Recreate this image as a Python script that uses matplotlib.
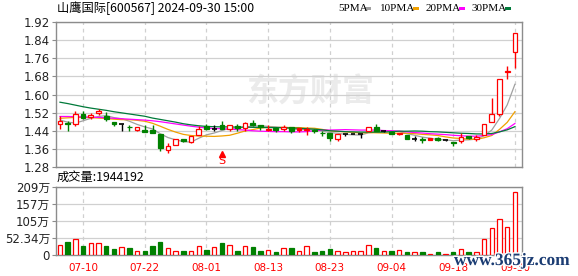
import matplotlib
matplotlib.use('Agg')
import matplotlib.pyplot as plt
from matplotlib.patches import Rectangle
import matplotlib.patheffects as pe

# ---- data (600567, daily, 2024-07-05 .. 2024-09-30) ----
opens = [1.469, 1.474, 1.469, 1.513, 1.500, 1.518, 1.503, 1.478, 1.470, 1.458,
         1.444, 1.443, 1.442, 1.425, 1.354, 1.376, 1.403, 1.390, 1.420, 1.462,
         1.447, 1.465, 1.447, 1.462, 1.451, 1.475, 1.467, 1.444, 1.453, 1.448,
         1.456, 1.450, 1.445, 1.443, 1.432, 1.428, 1.402, 1.425, 1.425, 1.425,
         1.437, 1.455, 1.438, 1.436, 1.425, 1.420, 1.405, 1.403, 1.406, 1.406,
         1.398, 1.391, 1.395, 1.416, 1.403, 1.420, 1.477, 1.512, 1.700, 1.789]
closes = [1.485, 1.470, 1.513, 1.496, 1.509, 1.525, 1.492, 1.470, 1.470, 1.455,
          1.455, 1.434, 1.428, 1.363, 1.372, 1.403, 1.394, 1.416, 1.448, 1.447,
          1.447, 1.447, 1.465, 1.451, 1.473, 1.465, 1.458, 1.448, 1.443, 1.455,
          1.438, 1.443, 1.447, 1.437, 1.429, 1.406, 1.425, 1.425, 1.425, 1.425,
          1.455, 1.438, 1.438, 1.427, 1.429, 1.405, 1.405, 1.398, 1.400, 1.398,
          1.398, 1.384, 1.413, 1.406, 1.413, 1.472, 1.512, 1.667, 1.705, 1.870]
highs = [1.503, 1.482, 1.527, 1.527, 1.518, 1.535, 1.522, 1.479, 1.471, 1.465,
         1.456, 1.465, 1.464, 1.425, 1.385, 1.403, 1.405, 1.416, 1.460, 1.468,
         1.465, 1.482, 1.465, 1.470, 1.478, 1.487, 1.467, 1.465, 1.457, 1.465,
         1.456, 1.453, 1.455, 1.447, 1.440, 1.428, 1.425, 1.426, 1.425, 1.425,
         1.457, 1.468, 1.440, 1.438, 1.431, 1.420, 1.416, 1.413, 1.407, 1.412,
         1.400, 1.391, 1.428, 1.418, 1.420, 1.472, 1.583, 1.667, 1.725, 1.870]
lows = [1.448, 1.438, 1.460, 1.491, 1.491, 1.509, 1.482, 1.460, 1.438, 1.438,
        1.438, 1.434, 1.428, 1.350, 1.341, 1.376, 1.392, 1.385, 1.420, 1.445,
        1.437, 1.447, 1.437, 1.440, 1.440, 1.460, 1.445, 1.437, 1.435, 1.437,
        1.431, 1.436, 1.420, 1.432, 1.416, 1.395, 1.395, 1.418, 1.425, 1.406,
        1.437, 1.438, 1.436, 1.425, 1.423, 1.404, 1.395, 1.387, 1.398, 1.395,
        1.394, 1.372, 1.387, 1.404, 1.395, 1.420, 1.477, 1.505, 1.667, 1.718]

ma5 = [1.487, 1.478, 1.474, 1.484, 1.495, 1.503, 1.507, 1.498, 1.493, 1.482,
       1.468, 1.457, 1.448, 1.427, 1.410, 1.400, 1.392, 1.390, 1.407, 1.422,
       1.430, 1.441, 1.451, 1.451, 1.457, 1.460, 1.462, 1.459, 1.457, 1.454,
       1.448, 1.445, 1.445, 1.444, 1.439, 1.432, 1.429, 1.424, 1.422, 1.421,
       1.431, 1.434, 1.436, 1.437, 1.437, 1.427, 1.420, 1.412, 1.407, 1.401,
       1.400, 1.396, 1.399, 1.400, 1.403, 1.418, 1.443, 1.494, 1.554, 1.645]
ma10 = [1.495, 1.497, 1.499, 1.499, 1.498, 1.496, 1.494, 1.491, 1.489, 1.489,
        1.486, 1.482, 1.473, 1.460, 1.446, 1.434, 1.424, 1.419, 1.417, 1.416,
        1.415, 1.417, 1.420, 1.429, 1.439, 1.445, 1.452, 1.455, 1.454, 1.455,
        1.454, 1.454, 1.452, 1.451, 1.446, 1.440, 1.437, 1.435, 1.433, 1.430,
        1.432, 1.431, 1.430, 1.429, 1.429, 1.429, 1.427, 1.424, 1.422, 1.419,
        1.413, 1.408, 1.406, 1.403, 1.402, 1.409, 1.419, 1.446, 1.477, 1.524]
ma20 = [1.503, 1.503, 1.502, 1.501, 1.500, 1.499, 1.497, 1.495, 1.493, 1.491,
        1.489, 1.487, 1.484, 1.480, 1.475, 1.470, 1.465, 1.460, 1.456, 1.452,
        1.450, 1.449, 1.447, 1.445, 1.443, 1.440, 1.438, 1.437, 1.436, 1.436,
        1.435, 1.435, 1.436, 1.440, 1.443, 1.443, 1.444, 1.445, 1.444, 1.443,
        1.443, 1.443, 1.441, 1.440, 1.438, 1.435, 1.432, 1.430, 1.427, 1.425,
        1.423, 1.420, 1.418, 1.416, 1.416, 1.419, 1.423, 1.435, 1.449, 1.472]
ma30 = [1.566, 1.560, 1.553, 1.546, 1.540, 1.535, 1.530, 1.524, 1.519, 1.514,
        1.509, 1.504, 1.496, 1.490, 1.484, 1.478, 1.471, 1.466, 1.462, 1.459,
        1.458, 1.457, 1.457, 1.456, 1.456, 1.455, 1.455, 1.454, 1.454, 1.453,
        1.452, 1.451, 1.449, 1.447, 1.444, 1.440, 1.438, 1.436, 1.435, 1.434,
        1.434, 1.434, 1.434, 1.436, 1.438, 1.438, 1.439, 1.438, 1.436, 1.435,
        1.433, 1.431, 1.429, 1.428, 1.426, 1.426, 1.428, 1.435, 1.444, 1.458]

# volume in 万
volumes = [31, 41, 49, 29, 37, 36, 29, 18.5, 25, 21.5,
           12.3, 12.3, 28, 40, 20.5, 12.3, 12.3, 12.3, 28, 15.4,
           24.6, 37, 30.8, 12.3, 27.7, 24.6, 12.3, 15.4, 9.2, 20.5,
           21.6, 12.3, 27.7, 9.2, 12.3, 18.5, 12.3, 9.2, 12.3, 12.3,
           30.8, 21.6, 12.3, 12.3, 15.4, 9.2, 9.2, 9.2, 3, 9.2,
           3, 9.2, 17.5, 9.2, 9.2, 48, 82, 110, 85, 194.4192]

tick_idx = [3, 11, 19, 27, 35, 43, 51, 59]
tick_labels = ['07-10', '07-22', '08-01', '08-13', '08-23', '09-04', '09-18', '09-30']
price_ticks = [1.28, 1.36, 1.44, 1.52, 1.60, 1.68, 1.76, 1.84, 1.92]
vol_ticks = [0, 52.34, 104.68, 157.02, 209.36]
vol_tick_labels = ['0', '52.34万', '105万', '157万', '209万']
title = '山鹰国际[600567] 2024-09-30 15:00'
vol_title = '成交量:1944192'
signal_idx = 21

RED = '#FF0000'
GREEN = '#008000'
GRID = '#D0D0D0'
SPINE = '#8C8C8C'
MA_COLORS = ['#A0A0A0', '#F0A000', '#FF00FF', '#007A3A']
CJK = ['Noto Sans CJK SC', 'DejaVu Sans']
NUM = ['DejaVu Sans', 'Noto Sans CJK SC']

W, H = 578, 276
fig = plt.figure(figsize=(W / 100, H / 100), dpi=100)
fig.patch.set_facecolor('white')

left, right = 55.5, 522
ax = fig.add_axes([left / W, 1 - 167 / H, (right - left) / W, (167 - 22) / H])
axv = fig.add_axes([left / W, 1 - 255 / H, (right - left) / W, (255 - 187) / H])

n = len(closes)
xs = list(range(n))


def candle_style(i):
    o, c = opens[i], closes[i]
    pc = closes[i - 1] if i > 0 else o
    if c > o:
        return RED, False
    if c < o:
        return (RED, True) if c > pc else (GREEN, True)
    if c > pc:
        return RED, True
    if c < pc:
        return GREEN, True
    return 'black', True


for a in (ax, axv):
    a.set_xlim(-0.58, 59.92)
    for s in a.spines.values():
        s.set_color(SPINE)
        s.set_linewidth(1)
    a.set_xticks(tick_idx)
    a.tick_params(axis='x', length=0)
    a.tick_params(axis='y', length=3, color=SPINE, width=0.8, pad=1)
    a.grid(axis='y', color=GRID, lw=0.9, zorder=0)
    a.grid(axis='x', color=GRID, lw=0.9, linestyle=(0, (3, 3)), zorder=0)
    a.set_axisbelow(True)

# ---- price panel ----
ax.set_ylim(1.28, 1.92)
ax.set_yticks(price_ticks)
ax.set_yticklabels(['%.2f' % t for t in price_ticks], fontsize=8.5, color='#222222')
ax.set_xticklabels([])

ax.text(0.545, 0.51, '东方财富', transform=ax.transAxes, ha='center', va='center',
        fontsize=23, fontweight='bold', color='#EBEBEB', family=CJK, zorder=0.5)

for ma, col in zip([ma5, ma10, ma20, ma30], MA_COLORS):
    ax.plot(xs, ma, color=col, lw=0.9, zorder=2)

w = 0.62
for i in xs:
    o, c, hi, lo = opens[i], closes[i], highs[i], lows[i]
    col, filled = candle_style(i)
    bot, top = min(o, c), max(o, c)
    ax.vlines(i, lo, bot, color=col, lw=1, zorder=3)
    ax.vlines(i, top, hi, color=col, lw=1, zorder=3)
    if top > bot:
        ax.bar(i, top - bot, bottom=bot, width=w, facecolor=col if filled else 'white',
               edgecolor=col, linewidth=0.9, zorder=4)
    else:
        ax.hlines(c, i - w / 2, i + w / 2, color=col, lw=1.2, zorder=4)

ax.plot(signal_idx, 1.337, marker='^', color=RED, markersize=4, zorder=5)
ax.text(signal_idx, 1.306, 'S', color=RED, fontsize=8, ha='center', va='center', zorder=5)

# ---- volume panel ----
axv.set_ylim(0, 209.36)
axv.set_yticks(vol_ticks)
axv.set_yticklabels(vol_tick_labels, fontsize=8.5, color='#222222', family=NUM)
axv.set_xticklabels(tick_labels, fontsize=7.5, color=RED,
                    family=['Liberation Sans Narrow', 'DejaVu Sans'])
axv.tick_params(axis='x', pad=6)
for i in xs:
    col, filled = candle_style(i)
    if col == 'black':
        col = RED
    is_green = col == GREEN
    axv.bar(i, volumes[i], width=0.58, facecolor=GREEN if is_green else 'white',
            edgecolor=col, linewidth=0.9, zorder=3)

# ---- texts ----
fig.text(57 / W, 1 - 8.5 / H, title, fontsize=8.8, family=CJK, va='center', ha='left', color='black')
fig.text(57 / W, 1 - 177 / H, vol_title, fontsize=8.8, family=CJK, va='center', ha='left', color='black')

legend = [('5PMA', 338, 365), ('10PMA', 380, 413), ('20PMA', 426, 459), ('30PMA', 472, 505)]
for (lab, tx, sx), col in zip(legend, MA_COLORS):
    fig.text(tx / W, 1 - 8.5 / H, lab, fontsize=8, family=['Liberation Serif', 'DejaVu Serif'],
             va='center', ha='left', color='black')
    fig.add_artist(Rectangle((sx / W, 1 - 10 / H), 6 / W, 3 / H, transform=fig.transFigure,
                             facecolor=col, edgecolor='none'))

fig.text(512 / W, 1 - 261 / H, 'www.365jz.com', fontsize=12.5, fontweight='bold',
         family=['Liberation Serif', 'DejaVu Serif'], color='#1B3C73', ha='center', va='center',
         path_effects=[pe.withStroke(linewidth=2, foreground='white')])

fig.savefig('out.png', dpi=100)
